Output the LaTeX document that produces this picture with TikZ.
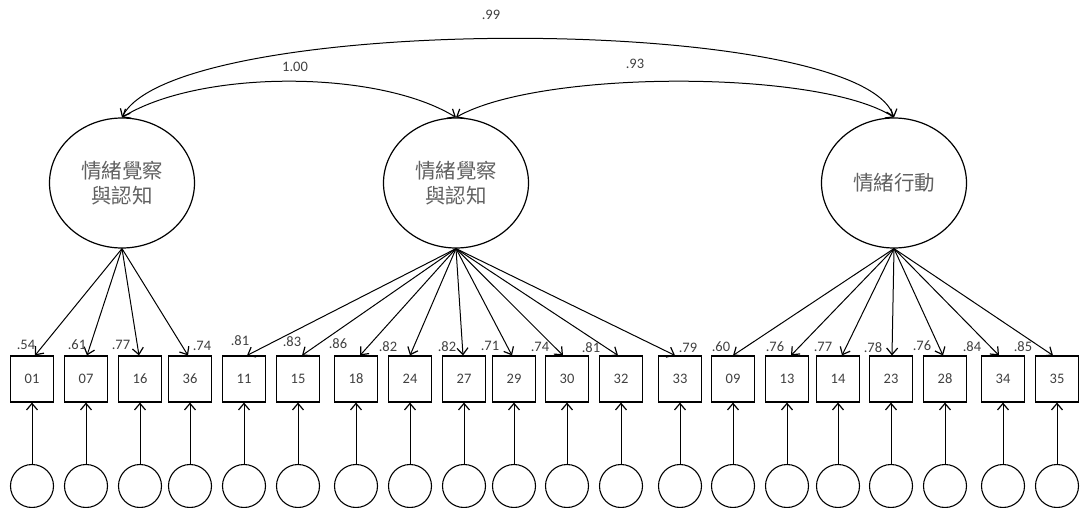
\documentclass[tikz,border=0pt]{standalone}
\usepackage{fontspec}
\setmainfont{Carlito}
\newfontfamily\cjk{Noto Sans CJK TC}
\usetikzlibrary{arrows.meta,shapes.geometric,calc}
\begin{document}
\begin{tikzpicture}[x=1pt,y=-1pt,
  latent/.style={draw, ellipse, minimum width=145pt, minimum height=130pt, inner sep=0pt,
    line width=1.2pt, font=\cjk\fontsize{20.5}{25}\selectfont, text=black!62, align=center},
  obs/.style={draw, rectangle, minimum width=43pt, minimum height=46pt, inner sep=0pt,
    line width=1.1pt, font=\fontsize{14.5}{16}\selectfont, text=black!75},
  err/.style={draw, circle, minimum size=43pt, inner sep=0pt, line width=1.1pt},
  lbl/.style={font=\fontsize{14.5}{16}\selectfont, text=black!75, inner sep=0pt},
  conn/.style={line width=1pt, -{Straight Barb[length=6.5pt,width=11pt,line width=1.2pt]}},
  cov/.style={line width=1pt, {Straight Barb[length=6.5pt,width=11pt,line width=1.2pt]}-{Straight Barb[length=6.5pt,width=11pt,line width=1.2pt]}}]
\useasboundingbox (0,0) rectangle (1080,508);

\node[latent] (L1) at (122,183) {情緒覺察\\與認知};
\node[latent] (L2) at (456,183) {情緒覺察\\與認知};
\node[latent] (L3) at (894,183) {情緒行動};

\draw[cov] (L1.north) .. controls +(53,-105) and +(-34,-105) .. (L3.north);
\draw[cov] (L1.north) .. controls +(78,-48) and +(-78,-48) .. (L2.north);
\draw[cov] (L2.north) .. controls +(84,-48) and +(-74,-48) .. (L3.north);

\node[lbl] (c12) at (295,67) {1.00};
\node[lbl] (c13) at (491,15) {.99};
\node[lbl] (c23) at (635,64) {.93};

\foreach \nm/\x/\d/\v/\lx/\ly/\L in {
  01/32/3/.54/26/345/L1,
  07/86/1/.61/77/345/L1,
  16/140/-1/.77/121/345/L1,
  36/190/-2/.74/202/346/L1,
  11/244/3/.81/240/341/L2,
  15/298/4/.83/292/342/L2,
  18/356/4/.86/338/344/L2,
  24/410/0/.82/388/347/L2,
  27/464/-1/.82/447/347/L2,
  29/514/-2/.71/490/346/L2,
  30/567/-4/.74/540/347/L2,
  32/621/-3/.81/591/348/L2,
  33/680/-5/.79/688/348/L2,
  09/733/0/.60/721/347/L3,
  13/787/4/.76/775/347/L3,
  14/838/4/.77/823/347/L3,
  23/891/1/.78/873/348/L3,
  28/945/-2/.76/922/346/L3,
  34/1003/-4/.84/972/347/L3,
  35/1057/-4/.85/1023/347/L3}{
  \node[obs] (b\nm) at (\x,379) {\nm};
  \node[err] (e\nm) at (\x,486) {};
  \draw[conn] (e\nm) -- (b\nm);
  \draw[conn] (\L.south) -- ($(b\nm.north)+(\d,0)$);
  \node[lbl] (l\nm) at (\lx,\ly) {\v};
}
\end{tikzpicture}
\end{document}
